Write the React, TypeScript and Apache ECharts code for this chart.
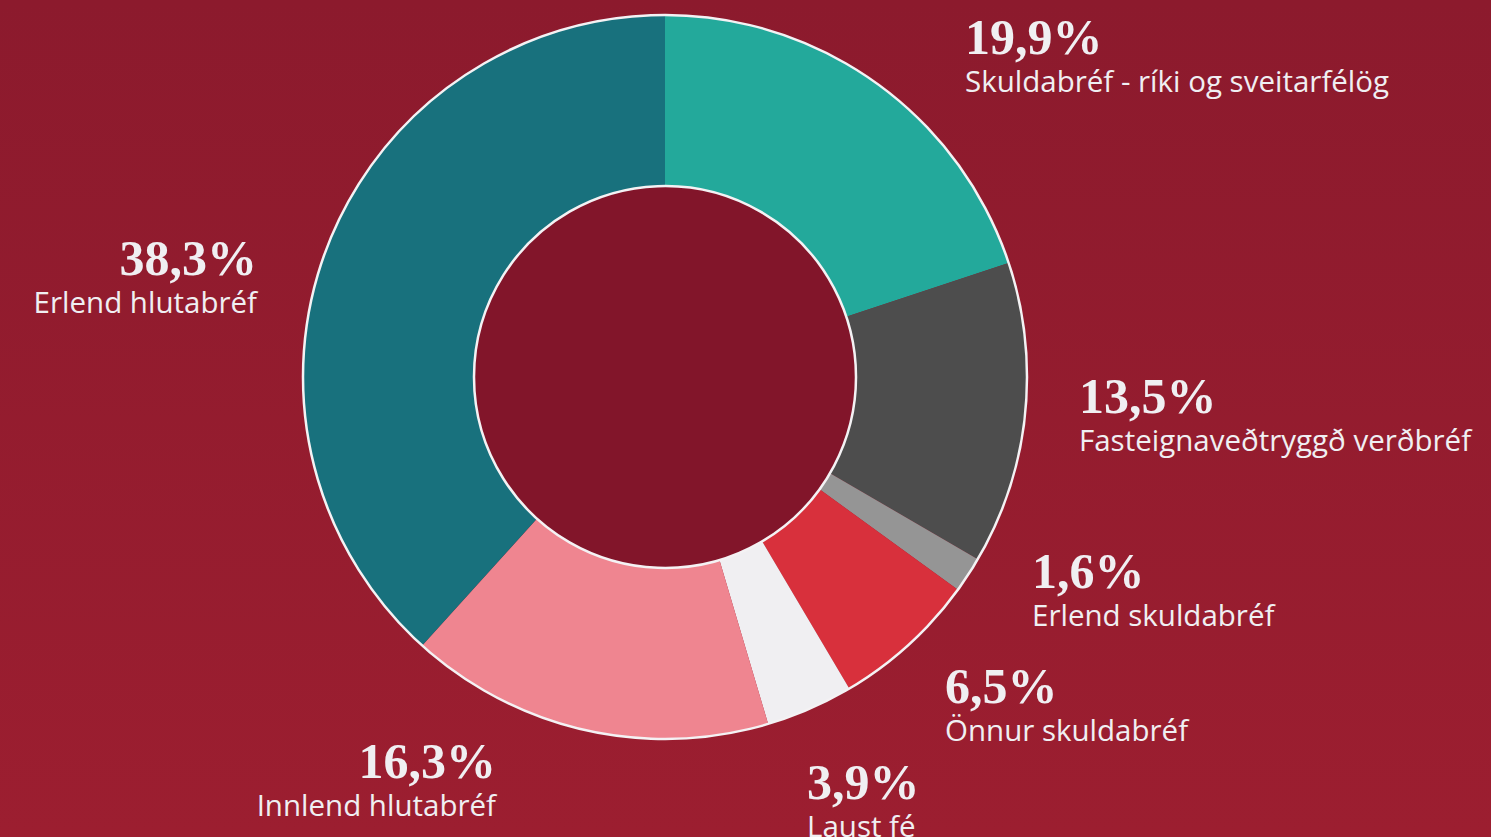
import React, { useEffect, useRef } from "react";
import * as echarts from "echarts";

const categories = [
  "Skuldabréf - ríki og sveitarfélög",
  "Fasteignaveðtryggð verðbréf",
  "Erlend skuldabréf",
  "Önnur skuldabréf",
  "Laust fé",
  "Innlend hlutabréf",
  "Erlend hlutabréf",
];
const values = [19.9, 13.5, 1.6, 6.5, 3.9, 16.3, 38.3];
const colors = ["#23a99b", "#4d4d4d", "#959595", "#d8303c", "#f0eff2", "#ef8590", "#18717d"];

// label anchor positions (layout only)
const labelAnchors: { x: number; y: number; align: string }[] = [
  { x: 965, y: 12, align: "left" },
  { x: 1079, y: 371, align: "left" },
  { x: 1032, y: 546, align: "left" },
  { x: 945, y: 661, align: "left" },
  { x: 807, y: 757, align: "left" },
  { x: 496, y: 736, align: "right" },
  { x: 257, y: 233, align: "right" },
];

const W = 1491;
const H = 837;
const CX = 665;
const CY = 377;
const R_IN = 191;
const R_OUT = 362;

export default function App() {
  const ref = useRef<HTMLDivElement>(null);
  useEffect(() => {
    if (!ref.current) return;
    const chart = echarts.init(ref.current, undefined, { renderer: "svg" });
    chart.setOption({
      animation: false,
      backgroundColor: new echarts.graphic.LinearGradient(0, 0, 0, 1, [
        { offset: 0, color: "#8c1a2d" },
        { offset: 1, color: "#9c1e30" },
      ]),
      graphic: [
        {
          type: "circle",
          z: 100,
          shape: { cx: CX, cy: CY, r: R_OUT },
          style: { fill: "none", stroke: "#f4f2f4", lineWidth: 2.5 },
          silent: true,
        },
        {
          type: "circle",
          z: 100,
          shape: { cx: CX, cy: CY, r: R_IN },
          style: { fill: "#82152a", stroke: "#f4f2f4", lineWidth: 2.5 },
          silent: true,
        },
      ],
      series: [
        {
          type: "pie",
          center: [CX, CY],
          radius: [R_IN, R_OUT],
          startAngle: 90,
          clockwise: true,
          silent: true,
          itemStyle: { borderWidth: 0 },
          labelLine: { show: false },
          label: {
            show: true,
            position: "outside",
            color: "#f0eff2",
            formatter: (p: any) =>
              "{p|" + values[p.dataIndex].toFixed(1).replace(".", ",") + "%}\n{n|" + p.name + "}",
            rich: {
              p: {
                fontFamily: "Liberation Serif",
                fontWeight: "bold",
                fontSize: 50,
                lineHeight: 50,
                color: "#f0eff2",
              },
              n: {
                fontFamily: "Open Sans",
                fontSize: 29.5,
                lineHeight: 37,
                color: "#f0eff2",
              },
            },
          },
          labelLayout: (params: any) => {
            const a = labelAnchors[params.dataIndex];
            return { x: a.x, y: a.y, align: a.align, verticalAlign: "top" };
          },
          data: categories.map((name, i) => ({
            name,
            value: values[i],
            itemStyle: { color: colors[i] },
          })),
        },
      ],
    });
    return () => chart.dispose();
  }, []);
  return (
    <div
      ref={ref}
      style={{ position: "fixed", left: 0, top: 0, width: W, height: H }}
    />
  );
}
